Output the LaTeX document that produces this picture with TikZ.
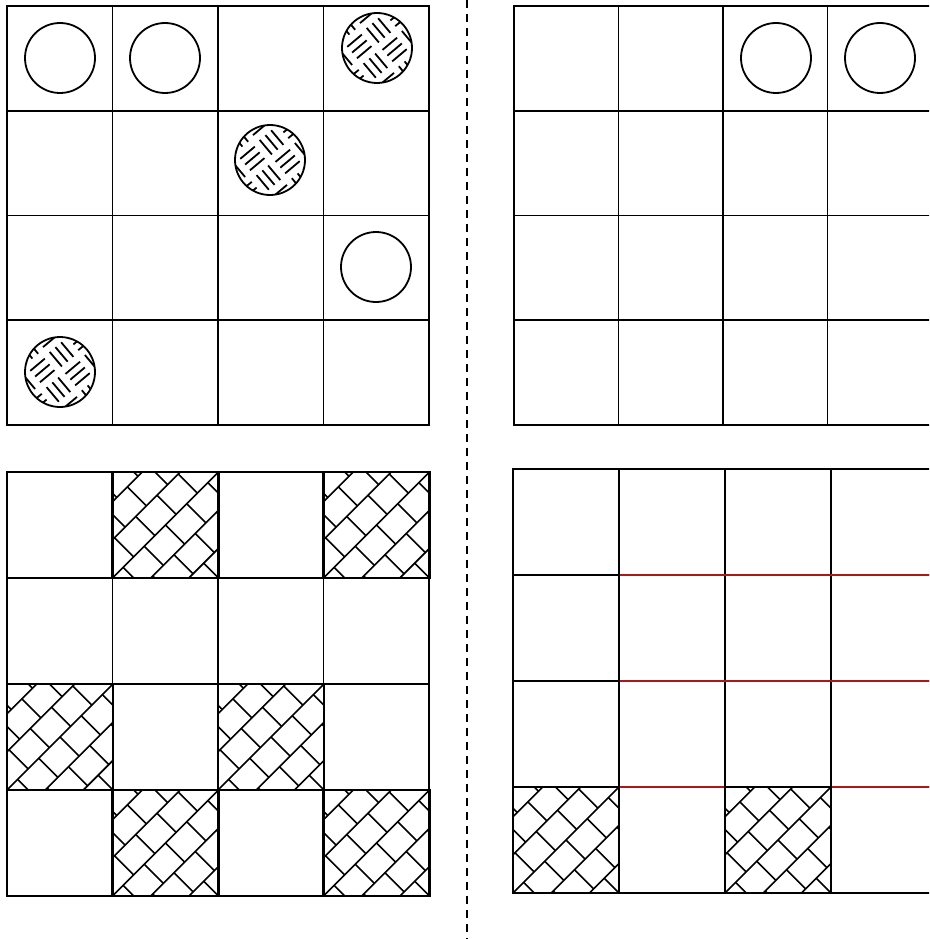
\documentclass[tikz,border=0pt]{standalone}
\usepackage{xcolor}
\usetikzlibrary{calc}

\definecolor{gridred}{RGB}{170,25,25}

% 4x4 board: #1,#2 top left corner, #3,#4 bottom right corner
\newcommand{\board}[4]{%
  \foreach \k in {1,2,3}{
    \draw[inner] ($(#1,#2)!\k/4!(#3,#2)$) -- ($(#1,#4)!\k/4!(#3,#4)$);
    \draw[inner] ($(#1,#2)!\k/4!(#1,#4)$) -- ($(#3,#2)!\k/4!(#3,#4)$);
  }
  \draw[outer] (#1,#2) rectangle (#3,#4);
}

% woven disc: centre #1,#2, radius #3
\newcommand{\weavedisc}[3]{%
  \begin{scope}
    \clip (#1,#2) circle[radius=#3];
    \begin{scope}[shift={(#1,#2)}, rotate=40]
      \foreach \i in {-3,...,2}{
        \foreach \j in {-3,...,2}{
          \pgfmathtruncatemacro{\wpar}{mod(\i+\j+10,2)}
          \ifnum\wpar=0
            \foreach \t in {0.2,0.5,0.8}
              \draw[weave] (\i*25+3,\j*25+\t*25) -- ++(19,0);
          \else
            \foreach \t in {0.2,0.5,0.8}
              \draw[weave] (\i*25+\t*25,\j*25+3) -- ++(0,19);
          \fi
        }
      }
    \end{scope}
  \end{scope}
  \draw[disc] (#1,#2) circle[radius=#3];
}

% brick hatched cell: #1,#2 top left corner, #3 size
\newcommand{\brickcell}[3]{%
  \begin{scope}
    \clip (#1,#2) rectangle ++(#3,#3);
    \begin{scope}[shift={(#1+#3/2,#2+#3/2)}, rotate=45]
      \foreach \k in {-4,...,4}
        \draw[brick] (-90,\k*27) -- (90,\k*27);
      \foreach \k in {-4,...,3}{
        \pgfmathsetmacro{\boff}{mod(\k+10,2)*15}
        \foreach \m in {-4,...,4}
          \draw[brick] (\m*30+\boff,\k*27) -- ++(0,27);
      }
    \end{scope}
  \end{scope}
  \draw[outer] (#1,#2) rectangle ++(#3,#3);
}

\begin{document}
\begin{tikzpicture}[x=1pt, y=-1pt,
    inner/.style={line width=1.7pt},
    outer/.style={line width=2.3pt},
    disc/.style={line width=1.8pt},
    weave/.style={line width=1.8pt},
    brick/.style={line width=1.6pt},
    redline/.style={gridred, line width=1.6pt},
    divider/.style={line width=1.6pt, dash pattern=on 8pt off 6pt}
  ]
  \useasboundingbox (0,0) rectangle (929,939);
  \clip (0,0) rectangle (929,939);

  % top left board
  \board{7}{6}{429}{425}
  \draw[disc] (60,58) circle[radius=35];
  \draw[disc] (165,58) circle[radius=35];
  \weavedisc{377}{48}{35}
  \weavedisc{270}{160}{35}
  \draw[disc] (376,267) circle[radius=35];
  \weavedisc{60}{372}{35}

  % top right board
  \board{514}{6}{932}{425}
  \draw[disc] (776,58) circle[radius=35];
  \draw[disc] (880,58) circle[radius=35];

  % bottom left board
  \board{7}{472}{429}{896}
  \brickcell{112.5}{472}{106}
  \brickcell{323.5}{472}{106}
  \brickcell{7}{684}{106}
  \brickcell{218}{684}{106}
  \brickcell{112.5}{790}{106}
  \brickcell{323.5}{790}{106}

  % bottom right board
  \board{513}{469}{937}{893}
  \foreach \yy in {575,681,787}
    \draw[redline] (620,\yy) -- (937,\yy);
  \brickcell{513}{787}{106}
  \brickcell{725}{787}{106}

  % divider
  \coordinate (dtop) at (467,0);
  \coordinate (dbot) at (467,939);
  \draw[divider] (dtop) -- (dbot);
\end{tikzpicture}
\end{document}
